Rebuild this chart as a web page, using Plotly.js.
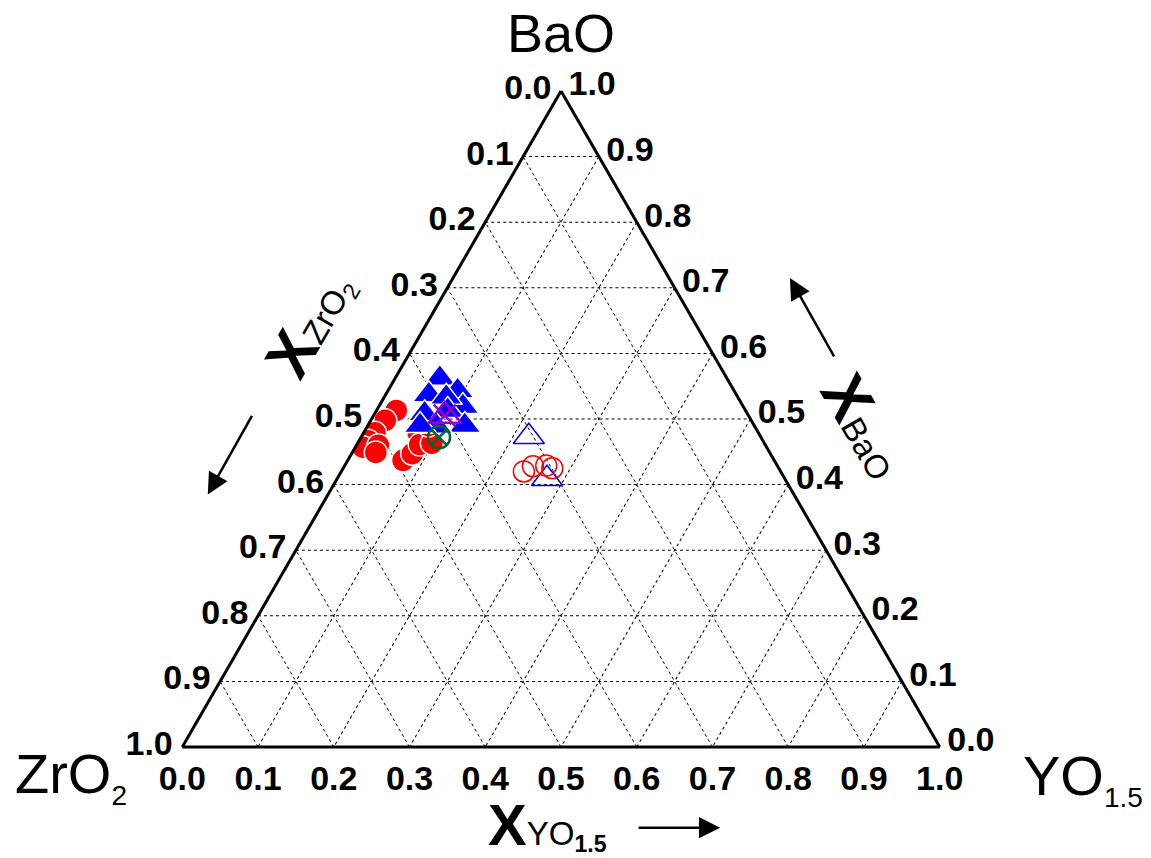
<!DOCTYPE html>
<html>
<head>
<meta charset="utf-8">
<script src="https://cdn.plot.ly/plotly-3.0.1.min.js"></script>
<style>html,body{margin:0;padding:0;background:#fff}#chart{width:1151px;height:858px}</style>
</head>
<body>
<div id="chart"></div>
<script>
// Ternary tick values (position along each axis) and their printed labels
const tickVals = [0, 0.1, 0.2, 0.3, 0.4, 0.5, 0.6, 0.7, 0.8, 0.9, 1.0];
const tickText = ['1.0', '0.9', '0.8', '0.7', '0.6', '0.5', '0.4', '0.3', '0.2', '0.1', '0.0'];

// Red filled circles
const redFilledBaO  = [0.513, 0.498, 0.479, 0.467, 0.457, 0.460, 0.449, 0.437, 0.447, 0.479, 0.461, 0.463, 0.490];
const redFilledZrO2 = [0.461, 0.483, 0.506, 0.521, 0.533, 0.511, 0.520, 0.490, 0.473, 0.449, 0.456, 0.439, 0.430];
const redFilledYO   = [0.026, 0.019, 0.015, 0.012, 0.010, 0.029, 0.031, 0.073, 0.080, 0.072, 0.083, 0.098, 0.080];

// Blue filled triangles
const blueFilledBaO  = [0.562, 0.543, 0.519, 0.537, 0.533, 0.508, 0.513, 0.490, 0.489, 0.490];
const blueFilledZrO2 = [0.379, 0.365, 0.370, 0.406, 0.385, 0.426, 0.393, 0.382, 0.420, 0.441];
const blueFilledYO   = [0.059, 0.092, 0.111, 0.057, 0.082, 0.066, 0.094, 0.128, 0.091, 0.069];

// Purple open triangle with cross
const purpleBaO = [0.505], purpleZrO2 = [0.401], purpleYO = [0.094];
// Green open circle with cross
const greenBaO = [0.472], greenZrO2 = [0.425], greenYO = [0.103];

// Blue open triangles
const blueOpenBaO  = [0.473, 0.409];
const blueOpenZrO2 = [0.306, 0.314];
const blueOpenYO   = [0.221, 0.277];

// Red open circles
const redOpenBaO  = [0.420, 0.428, 0.429, 0.425];
const redOpenZrO2 = [0.339, 0.323, 0.305, 0.299];
const redOpenYO   = [0.241, 0.249, 0.266, 0.276];

const traces = [
  {type:'scatterternary', mode:'markers', a:redFilledBaO, b:redFilledZrO2, c:redFilledYO,
   marker:{symbol:'circle', size:23, color:'#ff0000', line:{color:'#ffffff', width:1.5}}},
  {type:'scatterternary', mode:'markers', a:blueFilledBaO, b:blueFilledZrO2, c:blueFilledYO,
   marker:{symbol:'triangle-up', size:28, color:'#0000ff', line:{color:'#ffffff', width:1.5}}},
  {type:'scatterternary', mode:'markers', a:blueOpenBaO, b:blueOpenZrO2, c:blueOpenYO,
   marker:{symbol:'triangle-up-open', size:27, color:'#0000ff', line:{color:'#0000ff', width:1.5}}},
  {type:'scatterternary', mode:'markers', a:redOpenBaO, b:redOpenZrO2, c:redOpenYO,
   marker:{symbol:'circle-open', size:21, color:'#ff0000', line:{color:'#ff0000', width:1.5}}},
  {type:'scatterternary', mode:'markers', a:purpleBaO, b:purpleZrO2, c:purpleYO,
   marker:{symbol:'triangle-up-open', size:28, color:'#9900cc', line:{color:'#9900cc', width:2.5}}},
  {type:'scatterternary', mode:'markers', a:purpleBaO, b:purpleZrO2, c:purpleYO,
   marker:{symbol:'x-thin-open', size:22, color:'#9900cc', line:{color:'#9900cc', width:2.5}}},
  {type:'scatterternary', mode:'markers', a:greenBaO, b:greenZrO2, c:greenYO,
   marker:{symbol:'circle-x-open', size:22, color:'#006633', line:{color:'#006633', width:2.5}}}
];

const axisCommon = {
  tickmode:'array', tickvals:tickVals, ticktext:tickText,
  ticks:'outside', ticklen:4, tickcolor:'rgba(0,0,0,0)',
  showline:true, linecolor:'#000', linewidth:3,
  showgrid:true, gridcolor:'#000', gridwidth:0.7, griddash:'dot',
  tickfont:{family:'Liberation Sans, Arial, sans-serif', size:34, color:'#000', weight:'bold'},
  title:{text:''}
};

const F = 'Liberation Sans, Arial, sans-serif';
const layout = {
  width:1151, height:858,
  margin:{l:182, r:211, t:91, b:111},
  paper_bgcolor:'#fff',
  showlegend:false,
  ternary:{
    sum:1, bgcolor:'#fff',
    aaxis:Object.assign({}, axisCommon),
    baxis:Object.assign({}, axisCommon, {ticklen:0}),
    caxis:Object.assign({}, axisCommon)
  },
  annotations:[
    {xref:'paper', yref:'paper', x:0.5, y:1.088, text:'BaO', showarrow:false,
     font:{family:F, size:54, color:'#000'}, xanchor:'center', yanchor:'middle'},
    {xref:'paper', yref:'paper', x:-0.146, y:-0.045, text:'ZrO<sub><span style="font-size:28px">2</span></sub>', showarrow:false,
     font:{family:F, size:56, color:'#000'}, xanchor:'center', yanchor:'middle'},
    {xref:'paper', yref:'paper', x:1.189, y:-0.048, text:'YO<sub><span style="font-size:28px">1.5</span></sub>', showarrow:false,
     font:{family:F, size:56, color:'#000'}, xanchor:'center', yanchor:'middle'},
    {xref:'paper', yref:'paper', x:0.482, y:-0.118, text:'<b>X</b><span style="font-size:33px">YO<sub><b>1.5</b></sub></span>', showarrow:false,
     font:{family:F, size:58, color:'#000'}, xanchor:'center', yanchor:'middle'},
    {xref:'paper', yref:'paper', x:0.168, y:0.645, textangle:-60, text:'<b>X</b><span style="font-size:33px">ZrO<sub>2</sub></span>', showarrow:false,
     font:{family:F, size:62, color:'#000'}, xanchor:'center', yanchor:'middle'},
    {xref:'paper', yref:'paper', x:0.9, y:0.49, textangle:60, text:'<b>X</b><span style="font-size:33px">BaO</span>', showarrow:false,
     font:{family:F, size:62, color:'#000'}, xanchor:'center', yanchor:'middle'},
    {xref:'paper', yref:'paper', x:0.710, y:-0.123, ax:-83, ay:0, text:'', showarrow:true,
     arrowhead:2, arrowsize:1.7, arrowwidth:2.5, arrowcolor:'#000'},
    {xref:'paper', yref:'paper', x:0.034, y:0.385, ax:45, ay:-80, text:'', showarrow:true,
     arrowhead:2, arrowsize:1.7, arrowwidth:2.5, arrowcolor:'#000'},
    {xref:'paper', yref:'paper', x:0.802, y:0.715, ax:45, ay:80, text:'', showarrow:true,
     arrowhead:2, arrowsize:1.7, arrowwidth:2.5, arrowcolor:'#000'}
  ]
};

Plotly.newPlot('chart', traces, layout, {displayModeBar:false, responsive:false});
</script>
</body>
</html>
